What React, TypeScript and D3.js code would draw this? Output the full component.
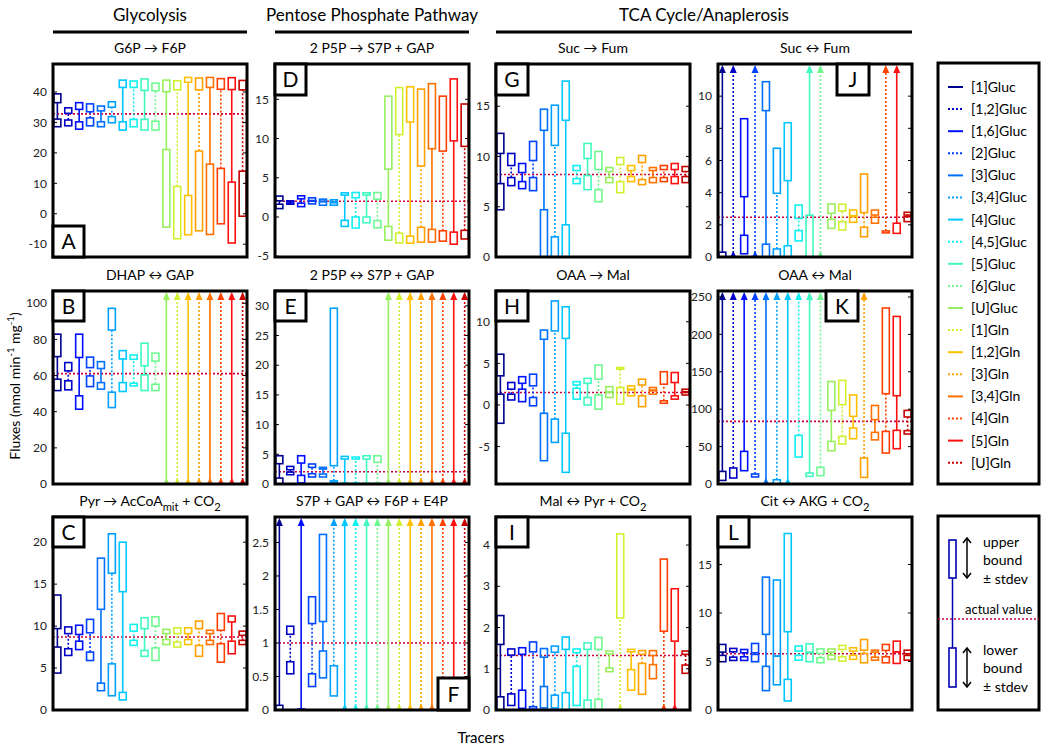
import React from 'react';
import * as d3 from 'd3';

type Row = (number | null)[];

const tracerNames = ['[1]Gluc', '[1,2]Gluc', '[1,6]Gluc', '[2]Gluc', '[3]Gluc', '[3,4]Gluc', '[4]Gluc', '[4,5]Gluc', '[5]Gluc', '[6]Gluc', '[U]Gluc', '[1]Gln', '[1,2]Gln', '[3]Gln', '[3,4]Gln', '[4]Gln', '[5]Gln', '[U]Gln'];
const tracerColors = ['#000090', '#0000c8', '#0010ff', '#0040ff', '#0070ff', '#00a0ff', '#00c8ff', '#10f0f0', '#40f8c0', '#70f890', '#98f060', '#d0f030', '#ffc000', '#ffa000', '#ff7000', '#ff4000', '#ff1010', '#c80000'];

// each tracer: [lower-bound box low, lower-bound box high, upper-bound box low, upper-bound box high]; null = unbounded
const N: Row = [null, null, null, null];

const dataA: Row[] = [[28.6, 31.1, 36.5, 39.4], [28.9, 30.8, 33.0, 34.8], [27.8, 30.2, 34.3, 36.5], [28.9, 31.5, 33.5, 36.1], [28.6, 30.2, 33.8, 35.4], [29.9, 31.9, 35.0, 36.8], [27.5, 30.2, 41.5, 43.9], [28.6, 31.0, 41.5, 43.6], [27.5, 31.0, 40.5, 44.3], [27.5, 30.4, 40.4, 42.9], [-4.4, 21.1, 40.1, 43.9], [-8.2, 9.0, 40.7, 43.7], [-6.9, 6.0, 43.2, 44.8], [-5.6, 20.6, 40.7, 44.6], [-6.8, 16.3, 41.5, 44.8], [-3.3, 14.9, 40.9, 44.4], [-9.6, 10.4, 40.8, 44.7], [-0.8, 14.0, 40.7, 43.8]];
const dataB: Row[] = [[51.7, 58.0, 70.5, 82.9], [52.1, 57.1, 62.6, 67.2], [41.4, 48.8, 70.0, 82.9], [53.9, 59.8, 64.4, 70.2], [52.5, 56.1, 63.9, 67.7], [42.3, 50.8, 85.2, 97.2], [51.2, 56.1, 69.2, 73.8], [54.3, 55.8, 69.0, 71.4], [51.7, 60.4, 65.4, 77.9], [51.7, 55.2, 68.0, 72.4], N, N, N, N, N, N, N, N];
const dataC: Row[] = [[4.4, 7.5, 9.7, 13.7], [6.5, 7.3, 9.1, 9.9], [7.2, 8.2, 9.0, 10.1], [5.9, 6.9, 9.2, 10.8], [2.3, 3.2, 12.0, 18.1], [1.7, 5.5, 16.3, 21.0], [1.2, 2.1, 14.1, 20.0], [7.7, 8.3, 9.4, 10.2], [6.4, 7.1, 9.7, 11.0], [5.9, 7.4, 10.0, 11.1], [7.8, 8.4, 9.1, 9.6], [7.5, 8.1, 9.1, 9.8], [7.8, 8.4, 9.1, 9.8], [6.4, 7.7, 9.7, 10.6], [7.8, 8.3, 9.1, 9.5], [5.7, 7.9, 9.5, 11.5], [6.7, 8.2, 10.5, 11.2], [7.8, 8.3, 8.9, 9.4]];
const dataD: Row[] = [[1.07, 1.63, 2.06, 2.66], [1.63, 1.76, 1.93, 2.06], [1.32, 1.76, 2.31, 2.7], [1.67, 2.02, 2.1, 2.44], [1.5, 1.93, 2.02, 2.27], [1.5, 1.8, 1.93, 2.19], [-1.2, -0.43, 2.79, 3.08], [-1.41, 0, 2.44, 3.12], [-0.73, 0, 2.79, 3.08], [-1.37, -0.47, 2.27, 3.12], [-2.96, -1.2, 6.1, 15.4], [-3.3, -2.06, 10.5, 16.5], [-3.34, -2.44, 12.1, 16.6], [-3.2, -1.32, 6.5, 16.3], [-3.2, -1.58, 8.7, 17.0], [-3.08, -1.76, 8.4, 15.4], [-3.47, -1.93, 9.7, 17.6], [-2.8, -1.7, 9.0, 14.4]];
const dataE: Row[] = [[0, 1.0, 3.42, 4.76], [1.56, 2.0, 2.4, 2.96], [0.17, 1.45, 3.53, 4.76], [1.18, 1.73, 2.8, 3.37], [1.18, 1.68, 2.52, 2.8], [0.27, 0.56, 3.08, 29.6], [0, 0.15, 4.2, 4.65], [0, 0.15, 4.2, 4.54], [0, 0.15, 4.2, 4.76], [0, 0.15, 3.64, 4.76], N, N, N, N, N, N, N, N];
const dataF: Row[] = [[0, 0.07, null, null], [0.54, 0.72, 1.13, 1.25], [0, 0.015, null, null], [0.35, 0.54, 1.29, 1.69], [0.48, 0.88, 1.32, 2.62], [0.21, 0.66, null, null], N, N, N, N, N, N, N, N, N, N, N, N];
const dataG: Row[] = [[4.7, 7.3, 10.3, 12.3], [7.1, 7.9, 9.1, 10.3], [6.8, 7.5, 8.4, 9.3], [6.6, 7.9, 9.6, 11.5], [0, 4.7, 12.6, 14.7], [0, 2.0, 11.1, 15.1], [0, 3.2, 13.6, 17.5], [7.3, 7.8, 8.6, 9.1], [6.7, 8.1, 9.8, 11.3], [5.5, 6.7, 8.7, 10.5], [7.4, 7.9, 8.5, 8.9], [6.4, 7.5, 9.2, 9.9], [7.5, 8.0, 8.6, 9.1], [7.2, 7.7, 9.4, 10.1], [7.4, 7.9, 8.6, 8.9], [7.5, 7.9, 8.7, 9.1], [7.3, 8.0, 8.7, 9.3], [7.4, 8.0, 8.5, 9.0]];
const dataH: Row[] = [[-2.2, 1.3, 3.5, 6.1], [0.6, 1.3, 1.9, 2.7], [0.4, 1.9, 2.6, 3.4], [-0.1, 0.9, 2.3, 3.7], [-6.7, -1.0, 7.9, 9.0], [-4.5, -1.7, 8.9, 12.5], [-8.1, -3.4, 8.0, 11.8], [0.7, 2.0, 2.4, 2.8], [0, 0.9, 2.6, 3.2], [-0.5, 1.2, 3.1, 4.8], [0.9, 1.5, 1.6, 2.2], [0.1, 2.1, 4.3, 4.5], [1.1, 1.8, 1.9, 2.3], [-0.2, 1.1, 2.4, 3.1], [1.3, 1.7, 1.8, 2.1], [0.2, 0.5, 2.5, 4.0], [0.7, 1.1, 2.7, 3.9], [1.2, 1.5, 1.6, 1.9]];
const dataI: Row[] = [[0, 0.32, 1.59, 2.29], [0.11, 0.39, 1.33, 1.48], [0.04, 0.48, 1.35, 1.51], [0.02, 0.08, 1.41, 1.65], [0.05, 0.57, 1.28, 1.49], [0.05, 0.36, 1.4, 1.55], [0, 0.42, 1.47, 1.77], [0.11, 1.06, 1.39, 1.48], [0, 0.24, 1.47, 1.63], [0, 0.26, 1.47, 1.76], [0.93, 1.02, 1.36, 1.43], [null, null, 2.23, 4.27], [0.48, 0.98, 1.41, 1.47], [0.38, 1.13, 1.35, 1.44], [0.76, 1.1, 1.32, 1.44], [null, null, 1.91, 3.66], [null, null, 1.67, 2.94], [0.89, 1.09, 1.35, 1.43]];
const dataJ: Row[] = [[0, 0.3, null, null], N, [0.2, 1.35, 3.75, 8.6], N, [0, 0.8, 9.1, 10.9], [0, 0.5, 3.96, 6.76], [0, 0.7, 4.75, 8.35], [1.0, 1.64, 2.4, 3.23], [0, 2.6, null, null], N, [1.78, 2.34, 2.72, 3.3], [1.68, 2.2, 2.86, 3.28], [2.16, 2.51, 2.57, 2.92], [1.26, 1.85, 2.76, 5.16], [2.1, 2.47, 2.61, 2.92], [1.5, 1.62, null, null], [1.47, 2.1, null, null], [2.2, 2.51, 2.61, 2.78]];
const dataK: Row[] = [[4.8, 16.8, null, null], [8.0, 21.4, null, null], [17.8, 43.6, null, null], [9.4, 13.4, null, null], N, [0, 5.7, null, null], N, [36, 65, null, null], [10.2, 14.7, null, null], [11.1, 22.2, null, null], [44.5, 57, 98.4, 137], [53.5, 63.6, 106, 138.5], [60.6, 74.9, 90.4, 119], [8.8, 34.8, null, null], [59, 69, 86, 105], [41.4, 70.3, 120.7, 235.3], [47.2, 71.7, 118, 224], [66.8, 71.3, 89.6, 98.4]];
const dataL: Row[] = [[4.98, 5.63, 5.97, 6.76], [5.11, 5.45, 6.0, 6.35], [5.11, 5.49, 5.9, 6.24], [4.98, 5.73, 5.9, 6.86], [2.0, 4.5, 7.8, 13.7], [2.6, 5.56, 5.56, 13.4], [0.93, 3.16, 8.07, 18.2], [5.14, 5.63, 6.07, 6.6], [4.98, 5.9, 5.97, 6.83], [4.87, 5.39, 5.83, 6.3], [5.22, 5.66, 5.97, 6.3], [5.04, 5.49, 6.24, 6.66], [5.22, 5.63, 6.07, 6.42], [4.87, 5.83, 6.17, 7.27], [5.14, 5.45, 5.97, 6.17], [4.87, 5.49, 6.14, 6.76], [4.8, 6.0, 6.0, 7.1], [5.14, 5.63, 5.8, 6.17]];

const actualValues = { A: 32.8, B: 61.1, C: 8.7, D: 2.0, E: 2.07, F: 1.0, G: 8.2, H: 1.5, I: 1.32, J: 2.47, K: 83.7, L: 5.8 };
const yDomains = { A: [-14.2, 49.2], B: [0, 106.8], C: [0, 23], D: [-5.1, 19.5], E: [0, 32.5], F: [0, 2.88], G: [0, 19.2], H: [-9.5, 13.7], I: [0, 4.68], J: [0, 12], K: [0, 258], L: [0, 19.9] };
const yTicks = { A: [-10, 0, 10, 20, 30, 40], B: [0, 20, 40, 60, 80, 100], C: [0, 5, 10, 15, 20], D: [-5, 0, 5, 10, 15], E: [0, 5, 10, 15, 20, 25, 30], F: [0, 0.5, 1, 1.5, 2, 2.5], G: [0, 5, 10, 15], H: [-5, 0, 5, 10], I: [0, 1, 2, 3, 4], J: [0, 2, 4, 6, 8, 10], K: [0, 50, 100, 150, 200, 250], L: [0, 5, 10, 15] };

// title segments: [text, isSubscript]
const panelTitles: Record<string, [string, boolean][]> = {
  A: [['G6P → F6P', false]],
  B: [['DHAP ↔ GAP', false]],
  C: [['Pyr → AcCoA', false], ['mit', true], [' + CO', false], ['2', true]],
  D: [['2 P5P → S7P + GAP', false]],
  E: [['2 P5P ↔ S7P + GAP', false]],
  F: [['S7P + GAP ↔ F6P + E4P', false]],
  G: [['Suc → Fum', false]],
  H: [['OAA → Mal', false]],
  I: [['Mal ↔ Pyr + CO', false], ['2', true]],
  J: [['Suc ↔ Fum', false]],
  K: [['OAA ↔ Mal', false]],
  L: [['Cit ↔ AKG + CO', false], ['2', true]],
};
const panelData: Record<string, Row[]> = { A: dataA, B: dataB, C: dataC, D: dataD, E: dataE, F: dataF, G: dataG, H: dataH, I: dataI, J: dataJ, K: dataK, L: dataL };
const columnTitles = ['Glycolysis', 'Pentose Phosphate Pathway', 'TCA Cycle/Anaplerosis'];

// layout
const W = 194, H = 193;
const colX = [53, 275, 496, 718];
const rowY = [64, 291, 517];
const panelGrid: [string, number, number][] = [['A', 0, 0], ['B', 0, 1], ['C', 0, 2], ['D', 1, 0], ['E', 1, 1], ['F', 1, 2], ['G', 2, 0], ['H', 2, 1], ['I', 2, 2], ['J', 3, 0], ['K', 3, 1], ['L', 3, 2]];
const letterBoxes: Record<string, [number, number, number, number]> = {
  A: [0, H - 31, 31, 31], B: [0, 0, 31, 30], C: [0, 0, 31, 30], D: [0, 0, 31, 31], E: [0, 0, 31, 30],
  F: [W - 31, H - 32, 31, 32], G: [0, 0, 32, 31], H: [0, 0, 32, 30], I: [0, 0, 32, 30],
  J: [119, 0, 32, 31], K: [108, 0, 32, 30], L: [0, 0, 31, 30],
};
const FONT = "Lato, 'Open Sans', 'DejaVu Sans', sans-serif";
const ACTUAL = '#c8003c';

function TitleText({ segs, x, y, size }: { segs: [string, boolean][]; x: number; y: number; size: number }) {
  let prevSub = false;
  return (
    <text x={x} y={y} textAnchor="middle" fontSize={size} fontFamily={FONT} fill="#000">
      {segs.map(([t, sub], i) => {
        const dy = sub && !prevSub ? 5 : !sub && prevSub ? -5 : 0;
        prevSub = sub;
        return (
          <tspan key={i} dy={dy} fontSize={sub ? size * 0.8 : size}>{t}</tspan>
        );
      })}
    </text>
  );
}

function Panel({ id, col, row }: { id: string; col: number; row: number }) {
  const data = panelData[id];
  const x = d3.scaleLinear().domain([0.6, 18.4]).range([0, W]);
  const y = d3.scaleLinear().domain(yDomains[id]).range([H, 0]);
  const clipId = 'clip' + id;
  const bw = 7;
  const lb = letterBoxes[id];
  return (
    <g transform={`translate(${colX[col]},${rowY[row]})`}>
      <defs>
        <clipPath id={clipId}><rect x={0} y={0} width={W} height={H} /></clipPath>
      </defs>
      <g clipPath={`url(#${clipId})`}>
        <line x1={0} x2={W} y1={y(actualValues[id])} y2={y(actualValues[id])} stroke={ACTUAL} strokeWidth={1.6} strokeDasharray="2,2" />
        {data.map((d, i) => {
          const [lbLo, lbHi, ubLo, ubHi] = d;
          const cx = x(i + 1);
          const c = tracerColors[i];
          const dash = i % 2 === 1 ? '2,2' : undefined;
          const y0 = lbHi == null ? H : y(lbHi);
          const y1 = ubLo == null ? 3 : y(ubLo);
          return (
            <g key={i}>
              {y0 > y1 && <line x1={cx} x2={cx} y1={y0} y2={y1} stroke={c} strokeWidth={1.6} strokeDasharray={dash} />}
              {lbLo != null && lbHi != null && (
                <rect x={cx - bw / 2} y={y(lbHi)} width={bw} height={Math.max(0.5, y(lbLo) - y(lbHi))} fill="none" stroke={c} strokeWidth={1.6} />
              )}
              {ubLo != null && ubHi != null && (
                <rect x={cx - bw / 2} y={y(ubHi)} width={bw} height={Math.max(0.5, y(ubLo) - y(ubHi))} fill="none" stroke={c} strokeWidth={1.6} />
              )}
              {ubLo == null && <path d={`M${cx - 3.5},9 L${cx},1 L${cx + 3.5},9 Z`} fill={c} />}
              {lbLo == null && <path d={`M${cx - 3.5},${H + 1} L${cx},${H - 6} L${cx + 3.5},${H + 1} Z`} fill={c} />}
            </g>
          );
        })}
      </g>
      {yTicks[id].map((t) => (
        <g key={t}>
          <line x1={0} x2={4} y1={y(t)} y2={y(t)} stroke="#000" strokeWidth={1} />
          <line x1={W - 4} x2={W} y1={y(t)} y2={y(t)} stroke="#000" strokeWidth={1} />
          <text x={-6} y={y(t)} dy="0.35em" textAnchor="end" fontSize={12} fontFamily={FONT} fill="#222">{String(t)}</text>
        </g>
      ))}
      <rect x={0} y={0} width={W} height={H} fill="none" stroke="#000" strokeWidth={3} />
      <rect x={lb[0]} y={lb[1]} width={lb[2]} height={lb[3]} fill="#fff" stroke="#000" strokeWidth={3} />
      <text x={lb[0] + lb[2] / 2} y={lb[1] + lb[3] / 2} dy="0.36em" textAnchor="middle" fontSize={21} fontFamily={FONT} fill="#000">{id}</text>
      <TitleText segs={panelTitles[id]} x={W / 2} y={-11} size={14} />
    </g>
  );
}

function DoubleArrow({ x, y1, y2 }: { x: number; y1: number; y2: number }) {
  return (
    <g stroke="#000" strokeWidth={1.5} fill="none">
      <line x1={x} x2={x} y1={y1} y2={y2} />
      <path d={`M${x - 4},${y1 + 5} L${x},${y1} L${x + 4},${y1 + 5}`} />
      <path d={`M${x - 4},${y2 - 5} L${x},${y2} L${x + 4},${y2 - 5}`} />
    </g>
  );
}

export default function App() {
  const colSpans: [number, number][] = [[colX[0], colX[0] + W], [colX[1], colX[1] + W], [colX[2], colX[3] + W]];
  const legendY = (i: number) => 87 + i * 22.1;
  return (
    <svg width={1050} height={756} style={{ position: 'absolute', left: 0, top: 0, background: '#fff' }}>
      <rect x={0} y={0} width={1050} height={756} fill="#fff" />
      {columnTitles.map((t, i) => (
        <g key={t}>
          <text x={(colSpans[i][0] + colSpans[i][1]) / 2} y={21} textAnchor="middle" fontSize={17} fontFamily={FONT} fill="#000">{t}</text>
          <line x1={colSpans[i][0]} x2={colSpans[i][1]} y1={32} y2={32} stroke="#000" strokeWidth={3} />
        </g>
      ))}
      {panelGrid.map(([id, c, r]) => <Panel key={id} id={id} col={c} row={r} />)}
      <text transform="translate(20,386) rotate(-90)" textAnchor="middle" fontSize={14} fontFamily={FONT} fill="#000">
        <tspan>Fluxes (nmol min</tspan>
        <tspan dy={-6} fontSize={9.5}>-1</tspan>
        <tspan dy={6}> mg</tspan>
        <tspan dy={-6} fontSize={9.5}>-1</tspan>
        <tspan dy={6}>)</tspan>
      </text>
      <text x={481} y={743} textAnchor="middle" fontSize={15} fontFamily={FONT} fill="#000">Tracers</text>

      <rect x={938} y={63} width={101} height={421} fill="none" stroke="#000" strokeWidth={3} />
      {tracerNames.map((n, i) => (
        <g key={n}>
          <line x1={948} x2={963} y1={legendY(i)} y2={legendY(i)} stroke={tracerColors[i]} strokeWidth={2} strokeDasharray={i % 2 === 1 ? '2,2' : undefined} />
          <text x={971} y={legendY(i)} dy="0.35em" fontSize={14} fontFamily={FONT} fill="#000">{n}</text>
        </g>
      ))}

      <rect x={938} y={516} width={101} height={194} fill="none" stroke="#000" strokeWidth={3} />
      <line x1={938} x2={1039} y1={619} y2={619} stroke={ACTUAL} strokeWidth={1.6} strokeDasharray="2,2" />
      <line x1={952.5} x2={952.5} y1={578} y2={648} stroke="#0000b0" strokeWidth={1.5} />
      <rect x={949} y={540} width={7} height={38} fill="none" stroke="#0000b0" strokeWidth={1.6} />
      <rect x={949} y={648} width={7} height={39} fill="none" stroke="#0000b0" strokeWidth={1.6} />
      <DoubleArrow x={967} y1={538} y2={578} />
      <DoubleArrow x={967} y1={648} y2={687} />
      <g fontSize={14} fontFamily={FONT} fill="#000">
        <text x={983} y={547}>upper</text>
        <text x={983} y={565}>bound</text>
        <text x={983} y={584}>± stdev</text>
        <text x={965} y={614} fontSize={13}>actual value</text>
        <text x={983} y={655}>lower</text>
        <text x={983} y={673}>bound</text>
        <text x={983} y={692}>± stdev</text>
      </g>
    </svg>
  );
}
